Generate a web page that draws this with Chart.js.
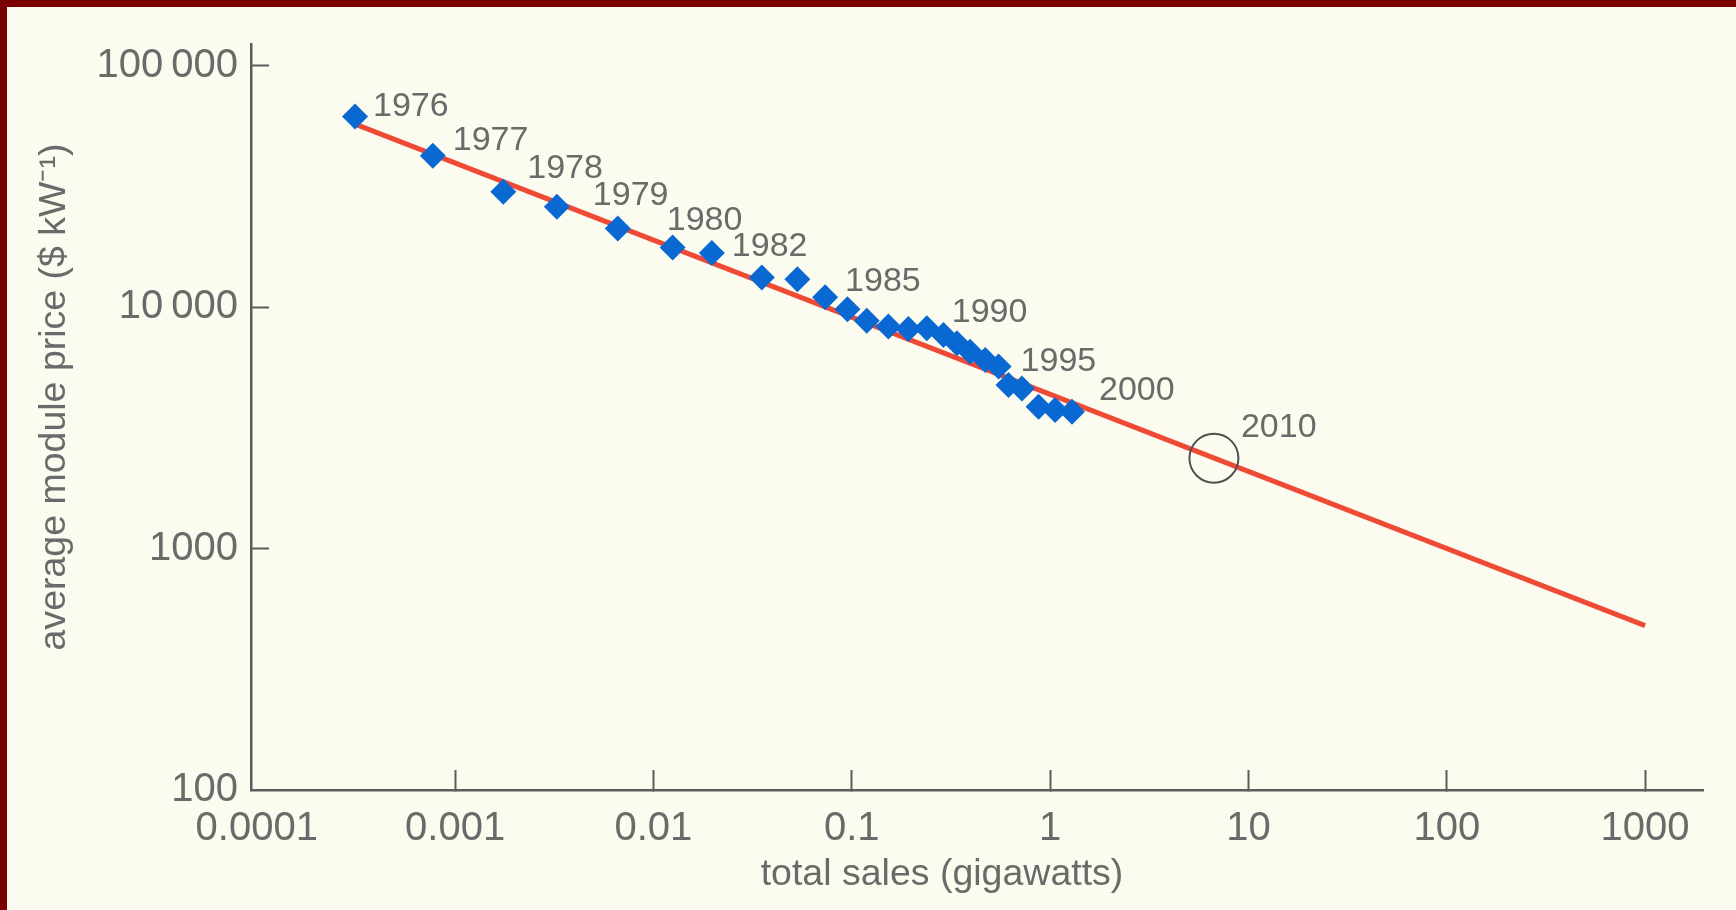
<!DOCTYPE html>
<html><head><meta charset="utf-8">
<script src="https://cdn.jsdelivr.net/npm/chart.js@4.4.1/dist/chart.umd.min.js"></script>
<style>
html,body{margin:0;padding:0;background:#7a0000;width:1736px;height:910px;overflow:hidden}
#wrap{position:absolute;left:7px;top:7px;width:1729px;height:903px;background:#fcfbf0}
canvas{display:block}
</style></head><body>
<div id="wrap"><canvas id="c" width="1729" height="903"></canvas></div>
<script>
// ---- data ----
const years  = [1976,1977,1978,1979,1980,1981,1982,1983,1984,1985,1986,1987,1988,1989,1990,1991,1992,1993,1994,1995,1996,1997,1998,1999,2000];
const sales  = [0.000313,0.000772,0.00175,0.00326,0.00661,0.0125,0.0197,0.0352,0.0532,0.0734,0.0951,0.119,0.153,0.193,0.239,0.290,0.339,0.395,0.471,0.550,0.617,0.721,0.875,1.06,1.29];
const prices = [61700,42500,30100,26100,21200,17700,16800,13300,13060,11000,9810,8790,8320,8130,8180,7670,7100,6550,6050,5680,4760,4610,3870,3750,3690];
const labeledYears = [1976,1977,1978,1979,1980,1982,1985,1990,1995,2000];
const fitSales  = [0.000323, 1000];
const fitPrices = [56900, 480];
const forecastYear  = 2010;
const forecastSales = [6.7];
const forecastPrice = [2370];
const xTicks = [0.0001,0.001,0.01,0.1,1,10,100,1000];
const xTickLabels = ['0.0001','0.001','0.01','0.1','1','10','100','1000'];
const yTicks = [100,1000,10000,100000];
const yTickLabels = ['100','1000','10\u2009000','100\u2009000'];
const xTitle = 'total sales (gigawatts)';
const yTitle = 'average module price ($ kW\u207B\u00B9)';

// ---- styling ----
const FONT = '"Liberation Sans", Arial, sans-serif';
const TEXT = '#6a6a6a';
const AXIS = '#5c5c5c';
const labelOffsets = {1976:[18,-10],1977:[20,-15],1978:[24,-23],1979:[36,-11],1980:[49,-8],1982:[20,-6],1985:[20,-16],1990:[25,-16],1995:[22,-5],2000:[27,-21]};
const forecastOffset = [27,-31];

const annot = {
  id:'annot',
  afterDatasetsDraw(chart){
    const ctx = chart.ctx;
    ctx.save();
    ctx.fillStyle = TEXT;
    ctx.font = '34px ' + FONT;
    ctx.textAlign = 'left';
    ctx.textBaseline = 'middle';
    const meta = chart.getDatasetMeta(1);
    labeledYears.forEach(y => {
      const i = years.indexOf(y);
      const p = meta.data[i];
      const o = labelOffsets[y];
      ctx.fillText(String(y), p.x + o[0], p.y + o[1]);
    });
    const fm = chart.getDatasetMeta(2).data[0];
    ctx.fillText(String(forecastYear), fm.x + forecastOffset[0], fm.y + forecastOffset[1]);
    // axis titles
    ctx.font = '37.5px ' + FONT;
    ctx.textAlign = 'center';
    ctx.fillText(xTitle, 935, 868);
    ctx.translate(48, 390);
    ctx.rotate(-Math.PI/2);
    ctx.fillText(yTitle, 0, 0);
    ctx.restore();
  }
};

const hideFirst = v => (ctx) => (ctx.tick && ctx.tick.value === v) ? 'rgba(0,0,0,0)' : AXIS;

new Chart(document.getElementById('c'), {
  type:'scatter',
  data:{
    datasets:[
      {type:'line', data: fitSales.map((x,i)=>({x, y: fitPrices[i]})), borderColor:'#ee4a35', borderWidth:5, pointRadius:0, fill:false, order:3},
      {data: sales.map((x,i)=>({x, y: prices[i]})), pointStyle:'rectRot', pointRadius:13, backgroundColor:'#0a68d2', borderWidth:0, order:2},
      {data: forecastSales.map((x,i)=>({x, y: forecastPrice[i]})), pointStyle:'circle', pointRadius:24.5, backgroundColor:'rgba(0,0,0,0)', borderColor:'#505050', borderWidth:2, order:1}
    ]
  },
  options:{
    responsive:false, animation:false, devicePixelRatio:1,
    layout:{padding:{top:37,right:33,left:0,bottom:0}},
    plugins:{legend:{display:false}, tooltip:{enabled:false}},
    scales:{
      x:{
        type:'logarithmic', min:Math.pow(10,-4.029), max:Math.pow(10,3.292),
        afterBuildTicks: s => { s.ticks = xTicks.map(v=>({value:v})); },
        afterFit: s => { s.height = 120; s.paddingLeft = 0; s.paddingRight = 0; },
        ticks:{callback:(v,i)=>xTickLabels[i], autoSkip:false, maxRotation:0, color:TEXT, font:{family:FONT,size:40}, padding:35},
        grid:{display:true, drawOnChartArea:false, drawTicks:true, tickLength:-20, tickWidth:2, tickColor:hideFirst(0.0001)},
        border:{display:true, color:AXIS, width:2.5}
      },
      y:{
        type:'logarithmic', min:100, max:Math.pow(10,5.091),
        afterBuildTicks: s => { s.ticks = yTicks.map(v=>({value:v})); },
        afterFit: s => { s.width = 244; s.paddingTop = 0; s.paddingBottom = 0; },
        ticks:{callback:(v,i)=>yTickLabels[i], autoSkip:false, color:TEXT, font:{family:FONT,size:40}, padding:31},
        grid:{display:true, drawOnChartArea:false, drawTicks:true, tickLength:-18, tickWidth:2, tickColor:hideFirst(100)},
        border:{display:true, color:AXIS, width:2.5}
      }
    }
  },
  plugins:[annot]
});
</script>
</body></html>
